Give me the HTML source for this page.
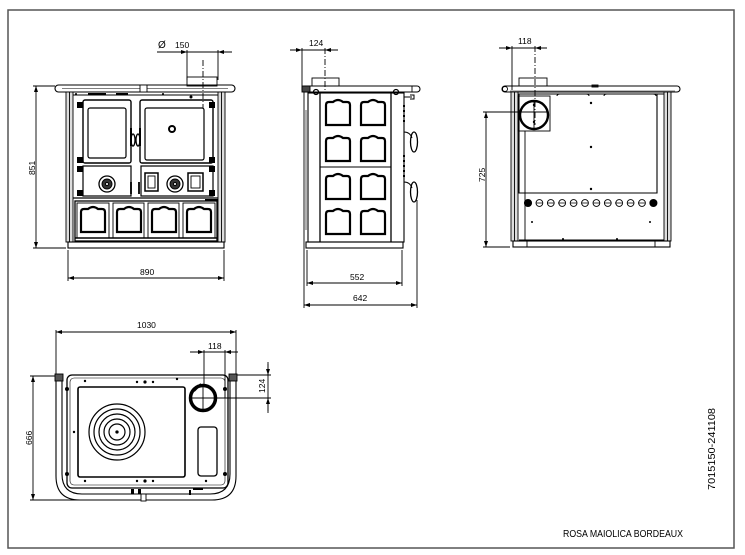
<!DOCTYPE html>
<html><head><meta charset="utf-8"><style>
html,body{margin:0;padding:0;background:#fff;}
svg{display:block;}
text{font-family:"Liberation Sans",sans-serif;fill:#000;}
</style></head><body>
<svg width="745" height="555" viewBox="0 0 745 555" xmlns="http://www.w3.org/2000/svg">
<defs>
<marker id="a" viewBox="0 0 6 4" refX="6" refY="2" markerWidth="6" markerHeight="4" orient="auto-start-reverse" markerUnits="userSpaceOnUse"><path d="M0,0 L6,2 L0,4 z" fill="#000"/></marker>
<g id="arch"><path d="M0,26 V6 Q0,3 3,3 H7 Q12,-1 17,3 H21 Q24,3 24,6 V26 z" fill="none" stroke="#000" stroke-width="2.2"/></g>
</defs>
<rect x="8" y="10" width="726" height="538" fill="none" stroke="#555" stroke-width="1.5"/>

<g fill="none" stroke="#000" stroke-width="0.9">
<!-- ================= FRONT VIEW ================= -->
<line x1="157" y1="52" x2="232" y2="52"/>
<line x1="175" y1="52" x2="187" y2="52" marker-end="url(#a)"/>
<line x1="230" y1="52" x2="218" y2="52" marker-end="url(#a)"/>
<line x1="187" y1="50" x2="187" y2="80"/>
<line x1="218" y1="50" x2="218" y2="80"/>
<line x1="203" y1="60" x2="203" y2="108" stroke-dasharray="6,2,1,2"/>
<rect x="187" y="77" width="30" height="9"/>
<rect x="55" y="85" width="180" height="7" rx="3.5" stroke-width="1.1"/>
<line x1="62" y1="88.5" x2="228" y2="88.5" stroke-width="0.5"/>
<rect x="140" y="85" width="7" height="7" fill="#fff"/>
<!-- pillars -->
<rect x="66" y="92" width="7" height="150" fill="#ddd"/>
<rect x="218" y="92" width="7" height="150" fill="#ddd"/>
<line x1="69.5" y1="92" x2="69.5" y2="242"/>
<line x1="221.5" y1="92" x2="221.5" y2="242"/>
<line x1="73" y1="95" x2="218" y2="95"/>
<!-- doors -->
<rect x="83" y="100" width="48" height="63" rx="2" stroke-width="1.4"/>
<rect x="88" y="108" width="38" height="50" rx="2" stroke-width="1.2"/>
<rect x="140" y="100" width="73" height="63" rx="2" stroke-width="1.4"/>
<rect x="145" y="108" width="59" height="52" rx="2" stroke-width="1.2"/>
<circle cx="172" cy="129" r="3" stroke-width="2"/>
<path d="M131,128 v18 M140,128 v18" stroke-width="2"/>
<ellipse cx="133" cy="140" rx="2" ry="6" stroke-width="1.3"/>
<ellipse cx="138" cy="140" rx="2" ry="6" stroke-width="1.3"/>
<g fill="#000" stroke="none">
<rect x="77" y="102" width="6" height="6"/><rect x="77" y="157" width="6" height="6"/>
<rect x="77" y="166" width="6" height="6"/><rect x="77" y="190" width="6" height="6"/>
<rect x="209" y="102" width="6" height="6"/><rect x="209" y="157" width="6" height="6"/>
<rect x="209" y="166" width="6" height="6"/><rect x="209" y="190" width="6" height="6"/>
<rect x="88" y="93" width="18" height="2"/><rect x="116" y="93" width="12" height="2"/>
<circle cx="76" cy="94" r="1"/><circle cx="163" cy="94" r="1"/><circle cx="191" cy="97" r="1.5"/>
</g>
<!-- middle row -->
<rect x="83" y="166" width="48" height="30" stroke-width="1.2"/>
<circle cx="107" cy="184" r="8" stroke-width="1.3"/>
<circle cx="107" cy="184" r="5" fill="#333"/>
<circle cx="107" cy="184" r="1.5" fill="#fff"/>
<rect x="141" y="166" width="72" height="30" stroke-width="1.2"/>
<rect x="145" y="173" width="13" height="18" stroke-width="1.5"/>
<rect x="148" y="176" width="7" height="12"/>
<circle cx="175" cy="184" r="8" stroke-width="1.3"/>
<circle cx="175" cy="184" r="5" fill="#333"/>
<circle cx="175" cy="184" r="1.5" fill="#fff"/>
<rect x="188" y="173" width="15" height="18" stroke-width="1.5"/>
<rect x="191" y="176" width="9" height="12"/>
<path d="M131,182 v12 M139,182 v12" stroke-width="1.8"/>
<line x1="73" y1="198" x2="218" y2="198" stroke-width="1.3"/>
<line x1="205" y1="200" x2="218" y2="200" stroke-width="2"/>
<!-- drawers -->
<rect x="75" y="201" width="142" height="40" stroke-width="1.3"/>
<line x1="75" y1="238" x2="217" y2="238" stroke-width="1.6"/>
<rect x="77" y="203" width="32" height="35"/>
<rect x="113" y="203" width="31" height="35"/>
<rect x="148" y="203" width="31" height="35"/>
<rect x="183" y="203" width="32" height="35"/>
<use href="#arch" x="81" y="206"/>
<use href="#arch" x="117" y="206"/>
<use href="#arch" x="152" y="206"/>
<use href="#arch" x="187" y="206"/>
<rect x="68" y="242" width="156" height="6" stroke-width="1.1"/>
<!-- dims front -->
<line x1="33" y1="86" x2="55" y2="86"/>
<line x1="33" y1="248" x2="66" y2="248"/>
<line x1="36" y1="168" x2="36" y2="86" marker-end="url(#a)"/>
<line x1="36" y1="168" x2="36" y2="248" marker-end="url(#a)"/>
<line x1="68" y1="250" x2="68" y2="281"/>
<line x1="224" y1="250" x2="224" y2="281"/>
<line x1="146" y1="278" x2="68" y2="278" marker-end="url(#a)"/>
<line x1="146" y1="278" x2="224" y2="278" marker-end="url(#a)"/>

<!-- ================= SIDE VIEW ================= -->
<line x1="290" y1="50" x2="338" y2="50"/>
<line x1="292" y1="50" x2="302" y2="50" marker-end="url(#a)"/>
<line x1="336" y1="50" x2="325" y2="50" marker-end="url(#a)"/>
<line x1="302" y1="48" x2="302" y2="90"/>
<line x1="325" y1="48" x2="325" y2="92" stroke-dasharray="6,2,1,2"/>
<rect x="312" y="78" width="27" height="8"/>
<rect x="302" y="86" width="118" height="6" rx="3" stroke-width="1.1"/>
<rect x="302" y="86" width="8" height="6" fill="#444"/>
<path d="M412,86 v6" />
<rect x="308" y="93" width="96" height="149" stroke-width="1.1"/>
<line x1="320" y1="93" x2="320" y2="242" stroke-width="1.3"/>
<line x1="391" y1="93" x2="391" y2="242" stroke-width="1.3"/>
<line x1="320" y1="167" x2="391" y2="167" stroke-width="1.1"/>
<line x1="306" y1="110" x2="306" y2="230" stroke-width="0.6"/>
<use href="#arch" x="326" y="99"/>
<use href="#arch" x="361" y="99"/>
<use href="#arch" x="326" y="135"/>
<use href="#arch" x="361" y="135"/>
<use href="#arch" x="326" y="173"/>
<use href="#arch" x="361" y="173"/>
<use href="#arch" x="326" y="208"/>
<use href="#arch" x="361" y="208"/>
<circle cx="316" cy="92" r="2.5" stroke-width="1.2"/>
<circle cx="396" cy="92" r="2.5" stroke-width="1.2"/>
<path d="M404,97 h8 M410,95 h4 v4 h-4" stroke-width="1"/>
<path d="M404,105 v20 M404,155 v25" stroke-width="2" stroke-dasharray="2,3"/>
<path d="M404,132 q6,0 8,6" stroke-width="1"/>
<ellipse cx="414" cy="142" rx="3.5" ry="10" stroke-width="1.3"/>
<path d="M404,182 q6,0 8,6" stroke-width="1"/>
<ellipse cx="414" cy="192" rx="3.5" ry="10" stroke-width="1.3"/>
<rect x="306" y="242" width="97" height="6" stroke-width="1.1"/>
<line x1="307" y1="250" x2="307" y2="286"/>
<line x1="402" y1="250" x2="402" y2="286"/>
<line x1="355" y1="283" x2="307" y2="283" marker-end="url(#a)"/>
<line x1="355" y1="283" x2="402" y2="283" marker-end="url(#a)"/>
<line x1="304" y1="92" x2="304" y2="308"/>
<line x1="417" y1="200" x2="417" y2="308"/>
<line x1="360" y1="305" x2="304" y2="305" marker-end="url(#a)"/>
<line x1="360" y1="305" x2="417" y2="305" marker-end="url(#a)"/>

<!-- ================= BACK VIEW ================= -->
<line x1="499" y1="48" x2="547" y2="48"/>
<line x1="500" y1="48" x2="512" y2="48" marker-end="url(#a)"/>
<line x1="546" y1="48" x2="535" y2="48" marker-end="url(#a)"/>
<line x1="512" y1="46" x2="512" y2="90"/>
<line x1="535" y1="46" x2="535" y2="125" stroke-dasharray="6,2,1,2"/>
<rect x="519" y="78" width="28" height="8"/>
<rect x="502" y="86" width="178" height="6" rx="3" stroke-width="1.1"/>
<circle cx="505" cy="89" r="2.5"/>
<line x1="510" y1="91" x2="675" y2="91" stroke-width="0.6"/>
<rect x="592" y="85" width="6" height="2"/>
<rect x="511" y="92" width="7" height="149" fill="#ddd"/>
<rect x="664" y="92" width="7" height="149" fill="#ddd"/>
<line x1="514.5" y1="92" x2="514.5" y2="241"/>
<line x1="667.5" y1="92" x2="667.5" y2="241"/>
<line x1="518" y1="94" x2="664" y2="94"/>
<path d="M519,94 V193 H657 V94" stroke-width="1.1"/>
<path d="M557,96 q0,-2 3,-2 H586 q3,0 3,2 M604,96 q0,-2 3,-2 H653 q3,0 3,2" stroke-width="1"/>
<rect x="518" y="96" width="32" height="35"/>
<circle cx="534" cy="115" r="14" stroke-width="2.4"/>
<line x1="520" y1="112" x2="548" y2="112"/>
<line x1="534" y1="100" x2="534" y2="130"/>
<line x1="525" y1="131" x2="525" y2="241"/>
<g fill="#000" stroke="none">
<circle cx="591" cy="103" r="1.2"/><circle cx="591" cy="147" r="1.2"/><circle cx="591" cy="189" r="1.2"/>
<circle cx="534" cy="105" r="1.2"/><circle cx="534" cy="122" r="1.2"/>
<circle cx="532" cy="222" r="1"/><circle cx="650" cy="222" r="1"/><circle cx="563" cy="239" r="1"/><circle cx="617" cy="239" r="1"/>
</g>
<circle cx="528" cy="203" r="3.6" fill="#000"/>
<circle cx="539.4" cy="203" r="3.4"/>
<circle cx="550.8" cy="203" r="3.4"/>
<circle cx="562.2" cy="203" r="3.4"/>
<circle cx="573.6" cy="203" r="3.4"/>
<circle cx="585" cy="203" r="3.4"/>
<circle cx="596.4" cy="203" r="3.4"/>
<circle cx="607.8" cy="203" r="3.4"/>
<circle cx="619.2" cy="203" r="3.4"/>
<circle cx="630.6" cy="203" r="3.4"/>
<circle cx="642" cy="203" r="3.4"/>
<circle cx="653.4" cy="203" r="3.6" fill="#000"/>
<path d="M536,203 h7 M547,203 h7 M558,203 h7 M570,203 h7 M581,203 h7 M593,203 h7 M604,203 h7 M615,203 h7 M627,203 h7 M638,203 h7" stroke-width="0.8"/>
<line x1="519" y1="240" x2="664" y2="240"/>
<rect x="513" y="241" width="157" height="6" stroke-width="1.1"/>
<line x1="527" y1="241" x2="527" y2="247"/>
<line x1="655" y1="241" x2="655" y2="247"/>
<line x1="483" y1="112" x2="520" y2="112"/>
<line x1="483" y1="247" x2="510" y2="247"/>
<line x1="486" y1="180" x2="486" y2="112" marker-end="url(#a)"/>
<line x1="486" y1="180" x2="486" y2="247" marker-end="url(#a)"/>

<!-- ================= TOP VIEW ================= -->
<line x1="56" y1="330" x2="56" y2="378"/>
<line x1="236" y1="330" x2="236" y2="378"/>
<line x1="146" y1="332" x2="56" y2="332" marker-end="url(#a)"/>
<line x1="146" y1="332" x2="236" y2="332" marker-end="url(#a)"/>
<line x1="190" y1="352" x2="238" y2="352"/>
<line x1="192" y1="352" x2="204" y2="352" marker-end="url(#a)"/>
<line x1="237" y1="352" x2="225" y2="352" marker-end="url(#a)"/>
<line x1="204" y1="350" x2="204" y2="386"/>
<line x1="225" y1="350" x2="225" y2="398"/>
<line x1="268" y1="362" x2="268" y2="413"/>
<line x1="268" y1="364" x2="268" y2="375" marker-end="url(#a)"/>
<line x1="268" y1="411" x2="268" y2="398" marker-end="url(#a)"/>
<line x1="232" y1="375" x2="271" y2="375"/>
<line x1="212" y1="398" x2="271" y2="398"/>
<line x1="30" y1="376" x2="58" y2="376"/>
<line x1="30" y1="500" x2="145" y2="500"/>
<line x1="33" y1="438" x2="33" y2="376" marker-end="url(#a)"/>
<line x1="33" y1="438" x2="33" y2="500" marker-end="url(#a)"/>
<!-- rails -->
<path d="M56,378 V476 Q56,500 80,500 H212 Q236,500 236,476 V378" stroke-width="1.1"/>
<path d="M62,380 V474 Q62,494 82,494 H210 Q230,494 230,474 V380" stroke-width="1.1"/>
<rect x="55" y="374" width="8" height="7" fill="#555"/>
<rect x="229" y="374" width="8" height="7" fill="#555"/>
<!-- cooktop -->
<rect x="67" y="375" width="161" height="113" rx="5" stroke-width="1.3"/>
<rect x="70" y="378" width="155" height="107" rx="4" stroke-width="0.6"/>
<rect x="78" y="387" width="107" height="90" rx="2" stroke-width="1.6"/>
<circle cx="117" cy="432" r="28" stroke-width="1.2"/>
<circle cx="117" cy="432" r="23" stroke-width="1.2"/>
<circle cx="117" cy="432" r="18" stroke-width="1.2"/>
<circle cx="117" cy="432" r="13" stroke-width="1.2"/>
<circle cx="117" cy="432" r="8" stroke-width="1.2"/>
<circle cx="117" cy="432" r="1.2" fill="#000"/>
<circle cx="203" cy="398" r="12.5" stroke-width="3.5"/>
<line x1="191" y1="398" x2="215" y2="398"/>
<line x1="203" y1="386" x2="203" y2="410"/>
<path d="M194,391 l7,-7" stroke-width="2"/>
<rect x="198" y="427" width="19" height="49" rx="3" stroke-width="1.3"/>
<g fill="#000" stroke="none">
<circle cx="85" cy="381" r="1.2"/><circle cx="137" cy="382" r="1.2"/><circle cx="145" cy="382" r="1.6"/><circle cx="153" cy="382" r="1.2"/><circle cx="177" cy="379" r="1.2"/>
<circle cx="74" cy="432" r="1.2"/><circle cx="85" cy="481" r="1.2"/><circle cx="137" cy="481" r="1.2"/><circle cx="145" cy="481" r="1.6"/><circle cx="153" cy="481" r="1.2"/><circle cx="206" cy="481" r="1.2"/>
<circle cx="67" cy="389" r="2"/><circle cx="67" cy="474" r="2"/><circle cx="225" cy="389" r="2"/><circle cx="225" cy="474" r="2"/>
<rect x="131" y="489" width="3" height="5"/><rect x="138" y="489" width="3" height="5"/><rect x="189" y="490" width="2" height="5"/><rect x="193" y="488" width="10" height="2"/>
</g>
<rect x="141" y="494" width="5" height="7" fill="#fff"/>
</g>

<!-- ================= TEXT ================= -->
<g font-size="8.5">
<text x="158" y="48" font-size="10">Ø</text>
<text x="175" y="48">150</text>
<text x="140" y="275">890</text>
<text transform="translate(35,175) rotate(-90)">851</text>
<text x="309" y="46">124</text>
<text x="350" y="280">552</text>
<text x="353" y="301">642</text>
<text x="518" y="44">118</text>
<text transform="translate(485,182) rotate(-90)">725</text>
<text x="137" y="328">1030</text>
<text x="208" y="349">118</text>
<text transform="translate(265,393) rotate(-90)">124</text>
<text transform="translate(32,445) rotate(-90)">666</text>
</g>
<text transform="translate(715,490) rotate(-90)" font-size="10" textLength="82" lengthAdjust="spacingAndGlyphs">7015150-241108</text>
<text x="563" y="537" font-size="10" textLength="120" lengthAdjust="spacingAndGlyphs">ROSA MAIOLICA BORDEAUX</text>
</svg>
</body></html>
